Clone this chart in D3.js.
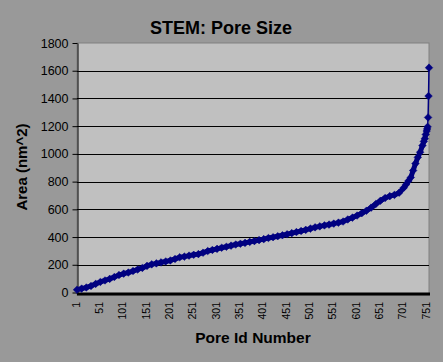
<!DOCTYPE html>
<html>
<head>
<meta charset="utf-8">
<script src="https://cdn.jsdelivr.net/npm/d3@7"></script>
<style>
  body { margin: 0; background: #999999; }
  text { font-family: "Liberation Sans", Arial, sans-serif; }
</style>
</head>
<body>
<div id="chart"></div>
<script>
// Pore ids (sampled along the sorted curve) and their areas in nm^2
const poreIds = [
  1, 11, 21, 31, 41, 51, 61, 71, 81, 91,
  101, 111, 121, 131, 141, 151, 161, 171, 181, 191,
  201, 211, 221, 231, 241, 251, 261, 271, 281, 291,
  301, 311, 321, 331, 341, 351, 361, 371, 381, 391,
  401, 411, 421, 431, 441, 451, 461, 471, 481, 491,
  501, 511, 521, 531, 541, 551, 561, 571, 581, 591,
  601, 611, 621, 631, 641, 651, 661, 671, 681, 691,
  701, 706, 711, 716, 721, 726, 731, 736, 741, 744,
  746, 748, 750, 751, 752, 753, 754, 755
];
const poreArea = [
  20, 28, 36, 47, 62, 76, 87, 98, 112, 126,
  136, 144, 155, 166, 177, 192, 203, 210, 217, 224,
  231, 242, 254, 259, 266, 272, 277, 287, 299, 307,
  315, 323, 330, 338, 346, 352, 358, 365, 371, 378,
  385, 393, 399, 406, 413, 420, 428, 436, 444, 452,
  461, 470, 477, 484, 490, 497, 504, 512, 527, 540,
  555, 572, 590, 612, 638, 662, 682, 695, 704, 720,
  756, 780, 805, 830, 880, 930, 975, 1012, 1060, 1090,
  1110, 1140, 1165, 1180, 1195, 1263, 1417, 1622
];
const yTicks = [0, 200, 400, 600, 800, 1000, 1200, 1400, 1600, 1800];
const xTicks = [1, 51, 101, 151, 201, 251, 301, 351, 401, 451, 501, 551, 601, 651, 701, 751];

const W = 443, H = 362;
const plot = { left: 77, right: 429, top: 43, bottom: 295 };

const svg = d3.select("#chart").append("svg")
    .attr("width", W)
    .attr("height", H);

svg.append("rect")
    .attr("width", W)
    .attr("height", H)
    .attr("fill", "#999999");

const x = d3.scaleLinear().domain([1, 755]).range([plot.left, plot.right]);
const y = d3.scaleLinear().domain([0, 1800]).range([292.5, plot.top]);

// Plot area
svg.append("rect")
    .attr("x", plot.left)
    .attr("y", plot.top)
    .attr("width", plot.right - plot.left)
    .attr("height", plot.bottom - plot.top)
    .attr("fill", "#c0c0c0")
    .attr("stroke", "#808080")
    .attr("stroke-width", 1);

// Gridlines
svg.append("g")
    .selectAll("line")
    .data(yTicks.filter(d => d > 0 && d < 1800))
    .enter()
    .append("line")
    .attr("x1", plot.left)
    .attr("x2", plot.right)
    .attr("y1", d => Math.round(y(d)) + 0.5)
    .attr("y2", d => Math.round(y(d)) + 0.5)
    .attr("stroke", "#000")
    .attr("stroke-width", 1);

// Y axis
const yAxis = svg.append("g")
    .attr("transform", `translate(${plot.left + 0.5},0)`)
    .call(d3.axisLeft(y).tickValues(yTicks).tickFormat(d3.format("d"))
        .tickSize(5).tickPadding(4).tickSizeOuter(0));
yAxis.select(".domain").attr("stroke", "#000");
yAxis.selectAll("text")
    .style("font-size", "12.5px")
    .style("font-family", "'Liberation Sans', Arial, sans-serif")
    .attr("fill", "#000");

// X axis (heavy line at zero)
svg.append("line")
    .attr("x1", plot.left)
    .attr("x2", plot.right + 1)
    .attr("y1", y(0) + 1.5)
    .attr("y2", y(0) + 1.5)
    .attr("stroke", "#000")
    .attr("stroke-width", 3);

svg.append("g")
    .selectAll("text")
    .data(xTicks)
    .enter()
    .append("text")
    .attr("transform", d => `translate(${x(d) - 1},302) rotate(-90)`)
    .attr("dy", "0.35em")
    .attr("text-anchor", "end")
    .style("font-size", "10.5px")
    .attr("fill", "#000")
    .text(d => d);

// Series line (heavy so the dense markers read as one band)
const line = d3.line()
    .x((d, i) => x(poreIds[i]))
    .y(d => y(d));

svg.append("path")
    .datum(poreArea)
    .attr("fill", "none")
    .attr("stroke", "#000080")
    .attr("stroke-width", 5)
    .attr("stroke-linejoin", "round")
    .attr("d", line.defined((d, i) => poreIds[i] <= 752));

svg.append("path")
    .datum(poreArea)
    .attr("fill", "none")
    .attr("stroke", "#000080")
    .attr("stroke-width", 1.5)
    .attr("d", d3.line().x((d, i) => x(poreIds[i])).y(d => y(d)));

// Diamond markers
const dia = 3.8;
svg.append("g")
    .selectAll("path")
    .data(poreArea)
    .enter()
    .append("path")
    .attr("d", (d, i) => {
        const cx = x(poreIds[i]), cy = y(d);
        return `M${cx},${cy - dia}L${cx + dia},${cy}L${cx},${cy + dia}L${cx - dia},${cy}Z`;
    })
    .attr("fill", "#000080")
    .attr("stroke", "#000080")
    .attr("stroke-width", 0.5);

// Titles
svg.append("text")
    .attr("x", 221)
    .attr("y", 34)
    .attr("text-anchor", "middle")
    .style("font-size", "18px")
    .style("font-weight", "bold")
    .text("STEM: Pore Size");

svg.append("text")
    .attr("transform", "translate(27,167) rotate(-90)")
    .attr("text-anchor", "middle")
    .style("font-size", "15px")
    .style("font-weight", "bold")
    .text("Area (nm^2)");

svg.append("text")
    .attr("x", 253)
    .attr("y", 343)
    .attr("text-anchor", "middle")
    .style("font-size", "15.5px")
    .style("font-weight", "bold")
    .text("Pore Id Number");
</script>
</body>
</html>
